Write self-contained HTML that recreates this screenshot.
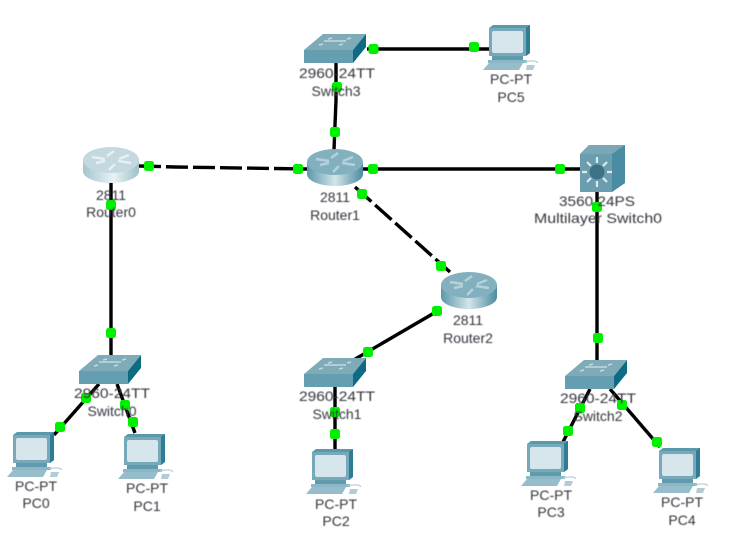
<!DOCTYPE html>
<html>
<head>
<meta charset="utf-8">
<style>
html,body{margin:0;padding:0;background:#fff;width:730px;height:557px;overflow:hidden}
svg{display:block}
text{font-family:"Liberation Sans",sans-serif;font-size:14px;fill:#33363c;text-anchor:middle;dominant-baseline:central}
.l{stroke:#000;stroke-width:3.4;fill:none}
.d{stroke-dasharray:22 5}
.g{fill:#00f000}
</style>
</head>
<body>
<svg xmlns="http://www.w3.org/2000/svg" width="730" height="557" viewBox="0 0 730 557">
<defs>
<filter id="soft" x="-10%" y="-10%" width="120%" height="120%"><feGaussianBlur stdDeviation="0.45"/></filter>
<linearGradient id="rg" x1="0" x2="1" y1="0" y2="0">
<stop offset="0" stop-color="#5c98ab"/><stop offset=".5" stop-color="#d3e5ea"/><stop offset="1" stop-color="#4b8ba0"/>
</linearGradient>
<linearGradient id="rg0" x1="0" x2="1" y1="0" y2="0">
<stop offset="0" stop-color="#a3c5cf"/><stop offset=".55" stop-color="#e9f2f4"/><stop offset="1" stop-color="#9cc0ca"/>
</linearGradient>
<g id="router">
<path d="M0 13V25C0 32 13 37 28 37S56 32 56 25V13Z" fill="url(#rg)"/>
<ellipse cx="28" cy="13" rx="28" ry="13" fill="#83b0be"/>
<path d="M9 10L22 12M35 14L48 16M31 4L24 9M32 17L26 23M13 16L22 14M36 12L46 8" stroke="#b5d2da" stroke-width="2.500" fill="none"/>
</g>
<g id="router0">
<path d="M0 13V24C0 31 13 36 28 36S56 31 56 24V13Z" fill="url(#rg0)"/>
<ellipse cx="28" cy="13" rx="28" ry="13" fill="#c3d9df"/>
<path d="M9 10L22 12M35 14L48 16M31 4L24 9M32 17L26 23M13 16L22 14M36 12L46 8" stroke="#e6f0f3" stroke-width="2.500" fill="none"/>
</g>
<g id="switch">
<path d="M0 16L19 0H62L49 16Z" fill="#7fabb9"/>
<path d="M0 16H49V29H0Z" fill="#659eb0"/>
<path d="M49 16L62 0V13L49 29Z" fill="#0f6a84"/>
<path d="M15 11l4 -1M35 11l4 -1M24 5l4 -1M43 5l4 -1M20 7H42" stroke="#c2dae1" stroke-width="1.500"/>
</g>
<g id="pc">
<path d="M6 3L10 0H47V28L43 31H6Z" fill="#5b98ac"/>
<path d="M43 3L47 0V28L43 31Z" fill="#2f7d94"/>
<rect x="6" y="3" width="37" height="28" fill="#76a9ba"/>
<rect x="9" y="6" width="31" height="22" rx="2" fill="#d7e5ec"/>
<path d="M9 31H40V35H9Z" fill="#5f9aad"/>
<path d="M5 35H44V38H5Z" fill="#8ab8c6"/>
<path d="M6 38H40L36 45H0Z" fill="#97bdca"/>
<path d="M42 37C50 35 54 36 55 38" stroke="#b9d0d8" stroke-width="1.200" fill="none"/>
<path d="M44 40H52L50 45H43Z" fill="#b2cbd4"/>
</g>
</defs>

<rect width="730" height="557" fill="#fff"/>

<path class="l" d="M367 49H490"/>
<path class="l" d="M336 63L336 100L334 150"/>
<path class="l d" d="M139 166L175 167L307 169"/>
<path class="l" d="M363 169H590"/>
<path class="l d" d="M355 187L450 272"/>
<path class="l" d="M441 309L345 365"/>
<path class="l" d="M335 387V450"/>
<path class="l" d="M111 183V355"/>
<path class="l" d="M99 384L54 435"/>
<path class="l" d="M117 384L135 433"/>
<path class="l" d="M597 190V360"/>
<path class="l" d="M590 389L563 442"/>
<path class="l" d="M610 389L660 447"/>

<g class="g">
<rect x="368.500" y="44" width="10" height="10" rx="2.500"/>
<rect x="469" y="42" width="10" height="10" rx="2.500"/>
<rect x="332" y="82" width="10" height="10" rx="2.500"/>
<rect x="330" y="127" width="10" height="10" rx="2.500"/>
<rect x="144" y="161" width="10" height="10" rx="2.500"/>
<rect x="293" y="164" width="10" height="10" rx="2.500"/>
<rect x="368" y="164" width="10" height="10" rx="2.500"/>
<rect x="555" y="164" width="10" height="10" rx="2.500"/>
<rect x="357" y="189" width="10" height="10" rx="2.500"/>
<rect x="436" y="261" width="10" height="10" rx="2.500"/>
<rect x="432" y="306" width="10" height="10" rx="2.500"/>
<rect x="363" y="347" width="10" height="10" rx="2.500"/>
<rect x="330" y="407" width="10" height="10" rx="2.500"/>
<rect x="330" y="429" width="10" height="10" rx="2.500"/>
<rect x="106" y="200" width="10" height="10" rx="2.500"/>
<rect x="106" y="328" width="10" height="10" rx="2.500"/>
<rect x="81" y="393" width="10" height="10" rx="2.500"/>
<rect x="55" y="422" width="10" height="10" rx="2.500"/>
<rect x="120" y="400" width="10" height="10" rx="2.500"/>
<rect x="128" y="417" width="10" height="10" rx="2.500"/>
<rect x="592" y="202" width="10" height="10" rx="2.500"/>
<rect x="593" y="333" width="10" height="10" rx="2.500"/>
<rect x="575" y="403" width="10" height="10" rx="2.500"/>
<rect x="563" y="426" width="10" height="10" rx="2.500"/>
<rect x="617" y="400" width="10" height="10" rx="2.500"/>
<rect x="652" y="437" width="10" height="10" rx="2.500"/>
</g>

<use href="#router0" x="83" y="147"/>
<use href="#router" x="307" y="149"/>
<use href="#router" x="441" y="272"/>
<use href="#switch" x="304" y="34"/>
<use href="#switch" x="79" y="355"/>
<use href="#switch" x="304" y="358"/>
<use href="#switch" x="565" y="360"/>
<use href="#pc" x="483" y="25"/>
<use href="#pc" x="7" y="432"/>
<use href="#pc" x="118" y="434"/>
<use href="#pc" x="306" y="449"/>
<use href="#pc" x="521" y="441"/>
<use href="#pc" x="653" y="448"/>

<g>
<path d="M580 154L589 145H625V183L612 192H580Z" fill="#6d9fb0"/>
<path d="M580 154L589 145H625L612 154Z" fill="#7aa8b7"/>
<path d="M612 154L625 145V183L612 192Z" fill="#4a8ca1"/>
<rect x="580" y="154" width="32" height="38" fill="#6a9dae"/>
<circle cx="597" cy="172" r="7.500" fill="#3d7186"/>
<path d="M597 157V163M597 181V187M582 172H587M607 172H612M587 162L591 166M607 162L603 166M587 182L591 178M607 182L603 178" stroke="#dbe8ed" stroke-width="2.200"/>
</g>

<g filter="url(#soft)">
<text x="111" y="195">2811</text><text x="111" y="212">Router0</text>
<text x="335" y="197">2811</text><text x="335" y="215">Router1</text>
<text x="468" y="320">2811</text><text x="468" y="338">Router2</text>
<text x="337" y="73" textLength="76" lengthAdjust="spacingAndGlyphs">2960-24TT</text><text x="336" y="91">Switch3</text>
<text x="112" y="393" textLength="76" lengthAdjust="spacingAndGlyphs">2960-24TT</text><text x="112" y="411">Switch0</text>
<text x="337" y="396" textLength="76" lengthAdjust="spacingAndGlyphs">2960-24TT</text><text x="337" y="414">Switch1</text>
<text x="598" y="398" textLength="76" lengthAdjust="spacingAndGlyphs">2960-24TT</text><text x="598" y="416">Switch2</text>
<text x="597" y="201" textLength="76" lengthAdjust="spacingAndGlyphs">3560 24PS</text>
<text x="598" y="218" textLength="128" lengthAdjust="spacingAndGlyphs">Multilayer Switch0</text>
<text x="511" y="79">PC-PT</text><text x="511" y="97">PC5</text>
<text x="36" y="486">PC-PT</text><text x="36" y="503">PC0</text>
<text x="147" y="488">PC-PT</text><text x="147" y="506">PC1</text>
<text x="336" y="504">PC-PT</text><text x="336" y="521">PC2</text>
<text x="551" y="495">PC-PT</text><text x="551" y="512">PC3</text>
<text x="682" y="502">PC-PT</text><text x="682" y="520">PC4</text>
</g>
</svg>
</body>
</html>
